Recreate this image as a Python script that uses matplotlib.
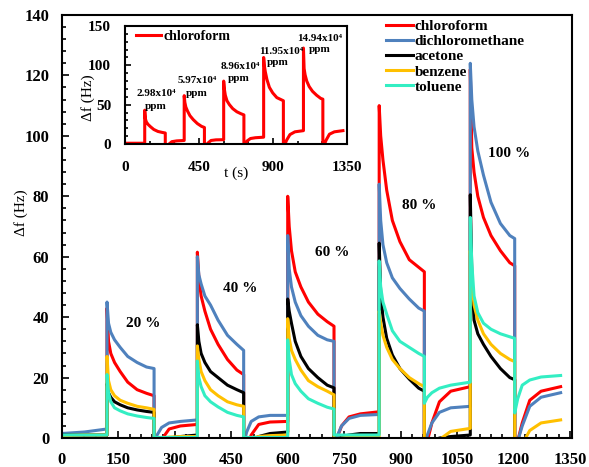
import matplotlib
matplotlib.use("Agg")
import matplotlib.pyplot as plt
from matplotlib.ticker import MultipleLocator

plt.rcParams['font.family'] = ['Liberation Serif', 'DejaVu Serif']
plt.rcParams['font.weight'] = 'bold'

# time points (s), shared by all gases
t_s = [0, 60, 120,
       120, 124, 130, 140, 155, 175, 200, 225, 245, 245, 253, 265, 285, 315, 360,
       360, 364, 370, 380, 395, 415, 440, 465, 483, 483, 491, 503, 523, 553, 600,
       600, 604, 610, 620, 635, 655, 680, 705, 723, 723, 731, 743, 763, 793, 843,
       843, 847, 853, 863, 878, 898, 923, 948, 963, 963, 971, 983, 1003, 1033, 1085,
       1085, 1089, 1095, 1105, 1120, 1140, 1165, 1190, 1203, 1203, 1211, 1223, 1243, 1273, 1325]

chloroform = [1, 1, 1,
              43, 32, 28, 25, 22, 18.5, 16, 14.8, 14, -5, -3, -0.5, 3, 4, 4.5,
              61.5, 53, 47, 42, 36, 31, 26, 22.5, 21, -5, -3, 1, 4.5, 5.3, 5.5,
              80, 70, 62, 55, 50, 45, 41, 38.5, 37, -4, 0, 4, 7, 8, 8.7,
              110, 100, 92, 82, 72, 65, 59, 56.5, 55, -5, -1, 5, 12, 15.5, 17,
              122, 96, 88, 80, 73, 67, 62, 58, 57, -5, -1, 5, 12.5, 15.5, 17]

dichloromethane = [1.5, 2, 3,
                   45, 38, 35, 32.5, 30, 27, 25, 23.5, 23, -2, 1, 3.5, 5, 5.5, 6,
                   60, 54, 51, 47, 44, 39, 34, 31, 29, -2, 2, 5.5, 7, 7.5, 7.5,
                   67, 56, 50, 45, 40.5, 37, 34, 32.5, 32, -3, 0.5, 4, 6.5, 7.5, 7.8,
                   84, 72, 64, 58, 53, 49.5, 46, 43, 42, -3, 1, 5, 8.5, 10, 10.5,
                   124, 112, 103, 95, 87, 78, 71, 67, 66, -4, -1, 4, 10.5, 13.5, 15]

acetone = [1, 1, 1,
           18, 15, 13.5, 12, 11, 10, 9.3, 8.8, 8.5, -3, -2, -1, 0, 0.5, 1,
           37.5, 32, 28, 25, 22, 20, 17.5, 16, 15, -3, -2, -1, 0.5, 1.5, 2,
           46, 42, 38, 32, 27, 23, 20, 17.5, 16.6, -2, -1, 0.5, 1, 1.5, 1.5,
           64.5, 48, 40, 33, 27.5, 23, 19.5, 16.5, 15.5, -3, -2, -1, 0, 0.5, 1,
           80.5, 55, 39, 34.5, 31, 27, 23, 20, 19.3, -3, -3, -3, -2, -1, -0.5]

benzene = [0.8, 1, 1,
           27, 19, 16, 14, 12.5, 11.5, 10.5, 10, 9.5, -2, -1, 0, 0.3, 0.5, 0.5,
           30.5, 26, 22, 19, 16, 14, 12, 11, 10.5, -2, -1, 0, 0.5, 0.8, 1,
           39.5, 33, 29, 26, 22.5, 19, 17, 15.5, 14.3, -2, -1, 0, 0.3, 0.5, 0.5,
           42, 38, 34, 30, 26, 23, 20, 18, 17, -3, -3, -2, -0.5, 2.2, 3.2,
           62, 52, 44, 39, 34.5, 31, 28, 26, 25.3, -4, -4, -2, 2.5, 5, 6]

toluene = [1, 1, 1,
           21, 15, 12, 10, 9, 8, 7.3, 6.8, 6.5, 0.2, 0.2, 0.2, 0.2, 0.2, 0.2,
           25.5, 20, 17, 14, 12, 10.3, 8.5, 7.5, 7, 0.2, 0.2, 0.2, 0.2, 0.2, 0.2,
           32.5, 26, 21, 18, 15.5, 13, 11.5, 10.2, 9.6, 1, 1, 1, 1, 1, 1,
           58.6, 50, 45, 41, 35.5, 32, 30, 28, 27, 11.5, 13.5, 15, 16.5, 17.5, 18.5,
           73, 58, 47, 41.5, 38, 36, 34.5, 33.5, 33, 8.3, 13, 17.5, 19.2, 20.2, 20.7]

gases = ["chloroform", "dichloromethane", "acetone", "benzene", "toluene"]
colors = ["#FF0000", "#4F81BD", "#000000", "#FFC000", "#33EEC3"]

pct_labels = ["20 %", "40 %", "60 %", "80 %", "100 %"]
pct_x = [215, 473, 717, 950, 1189]
pct_y = [38, 49.5, 61.5, 77, 94]

conc_labels = ["2.98x10⁴", "5.97x10⁴", "8.96x10⁴", "11.95x10⁴", "14.94x10⁴"]
conc_pos = [(0.140, 0.424), (0.324, 0.542), (0.518, 0.653), (0.703, 0.788), (0.878, 0.898)]
ppm_pos = [(0.140, 0.314), (0.324, 0.432), (0.514, 0.559), (0.689, 0.695), (0.878, 0.797)]

fig = plt.figure(figsize=(5.89, 4.67), dpi=100)
ax = fig.add_axes([0.105, 0.062, 0.866, 0.906])

for name, ys, c in zip(gases, [chloroform, dichloromethane, acetone, benzene, toluene], colors):
    ax.plot(t_s, ys, color=c, lw=2.2, label=name)

ax.set_xlim(0, 1355)
ax.set_ylim(0, 140)
ax.xaxis.set_major_locator(MultipleLocator(150))
ax.xaxis.set_minor_locator(MultipleLocator(30))
ax.yaxis.set_major_locator(MultipleLocator(20))
ax.yaxis.set_minor_locator(MultipleLocator(4))
ax.tick_params(which='both', direction='in', labelsize=12, width=1.2)
ax.tick_params(which='major', length=5)
ax.tick_params(which='minor', length=3)
ax.tick_params(axis='x', pad=10)
ax.tick_params(axis='y', pad=9)
for sp in ax.spines.values():
    sp.set_linewidth(1.5)

for lab, x, y in zip(pct_labels, pct_x, pct_y):
    ax.text(x, y, lab, ha='center', va='center', fontsize=11, fontweight='bold')

ax.legend(loc='upper left', bbox_to_anchor=(0.635, 0.99), frameon=False,
          fontsize=11, handlelength=1.8, handletextpad=0.1, labelspacing=0.1,
          borderpad=0, borderaxespad=0)

fig.text(0.036, 1 - 213 / 467, "Δf (Hz)", rotation=90, ha='center', va='center',
         fontsize=11, fontweight='normal')

# inset: chloroform alone
ins = fig.add_axes([0.2122, 0.6916, 0.377, 0.2527])
ins.plot(t_s, chloroform, color="#FF0000", lw=2.2, label="chloroform")
ins.set_xlim(0, 1350)
ins.set_ylim(0, 150)
ins.xaxis.set_major_locator(MultipleLocator(450))
ins.xaxis.set_minor_locator(MultipleLocator(150))
ins.yaxis.set_major_locator(MultipleLocator(50))
ins.yaxis.set_minor_locator(MultipleLocator(10))
ins.tick_params(which='both', direction='in', labelsize=11, width=1.2)
ins.tick_params(which='major', length=4)
ins.tick_params(which='minor', length=2.5)
ins.tick_params(axis='x', pad=12)
ins.tick_params(axis='y', pad=10)
for sp in ins.spines.values():
    sp.set_linewidth(1.5)
ins.set_xlabel("t (s)", fontsize=11, labelpad=-5)
ins.text(-0.165, 0.39, "Δf (Hz)", transform=ins.transAxes, rotation=90,
         ha='center', va='center', fontsize=11, fontweight='normal')
ins.legend(loc='upper left', bbox_to_anchor=(0.05, 0.97), frameon=False,
           fontsize=10, handlelength=1.8, handletextpad=0.2,
           borderpad=0, borderaxespad=0)

for lab, p1, p2 in zip(conc_labels, conc_pos, ppm_pos):
    ins.text(p1[0], p1[1], lab, transform=ins.transAxes, ha='center', va='center',
             fontsize=8, fontweight='bold')
    ins.text(p2[0], p2[1], "ppm", transform=ins.transAxes, ha='center', va='center',
             fontsize=8, fontweight='bold')

fig.savefig("out.png", dpi=100)
